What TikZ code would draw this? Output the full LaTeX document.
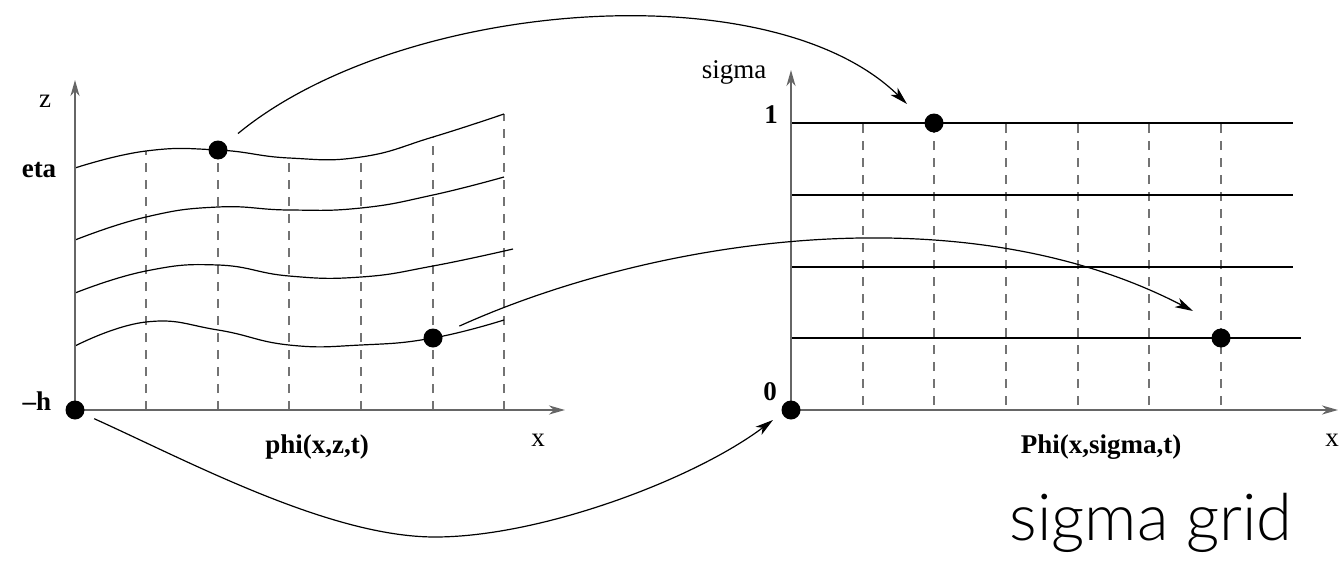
\documentclass[tikz,border=0pt]{standalone}
\usepackage{fontspec}
\setmainfont{Liberation Serif}
\newfontfamily\sgfont{Lato Light}
\usetikzlibrary{arrows.meta}
\tikzset{
 axisline/.style={draw=black!60, line width=1pt, -{Stealth[length=8pt,width=4.5pt,inset=2.5pt]}},
 gridline/.style={draw=black, line width=0.6pt},
 vdash/.style={draw=black!55, line width=0.7pt, dash pattern=on 4.5pt off 4pt},
 dot/.style={circle, fill=black, inner sep=0pt, minimum size=9.5pt},
 maparrow/.style={draw=black, line width=0.6pt, -{Stealth[length=9pt,width=5pt,inset=2.5pt]}},
 lab/.style={inner sep=0pt, anchor=base, font=\fontsize{13.5}{16}\selectfont},
 blab/.style={inner sep=0pt, anchor=base, font=\fontsize{13.5}{16}\selectfont\bfseries},
}
\begin{document}
\begin{tikzpicture}[x=0.5pt,y=-0.5pt]
\useasboundingbox (0,0) rectangle (1339,562);

% ---------- left panel ----------
\foreach \x/\y in {146/151,218/150,289/158,361/157,433/137,504/114}
  \draw[vdash] (\x,410) -- (\x,\y);
\draw[gridline] plot[smooth,tension=0.8] coordinates {(75,168) (146,151) (218,150) (289,158) (361,157) (433,137) (504,114)};
\draw[gridline] plot[smooth,tension=0.8] coordinates {(75,240) (146,217) (218,207) (289,210) (361,208) (433,195) (504,177)};
\draw[gridline] plot[smooth,tension=0.8] coordinates {(75,293) (146,271) (218,265) (289,276) (361,277) (433,266) (513,249)};
\draw[gridline] plot[smooth,tension=0.8] coordinates {(75,346) (146,322) (218,330) (289,345) (361,345) (433,338) (504,320)};

\coordinate (lo) at (75,410);
\coordinate (lz) at (75,80);
\coordinate (lx) at (565,410);
\draw[axisline] (lo) -- (lz);
\draw[axisline] (lo) -- (lx);

\node[lab] (zl) at (45,107) {z};
\node[lab] (xl) at (538,446) {x};
\node[blab] (etal) at (39,177) {eta};
\node[blab] (hl) at (37,410) {–h};
\node[blab] (phil) at (317,453) {phi(x,z,t)};

\node[dot] (dA) at (218,150) {};
\node[dot] (dB) at (433,338) {};
\node[dot] (dH) at (75,410) {};

% ---------- right panel ----------
\foreach \x in {863,934,1006,1078,1149,1221}
  \draw[vdash] (\x,405) -- (\x,123);
\draw[gridline] (791,123) -- (1293,123);
\draw[gridline] (791,195) -- (1293,195);
\draw[gridline] (791,267) -- (1293,267);
\draw[gridline] (791,338) -- (1301,338);

\coordinate (ro) at (791,410);
\coordinate (rs) at (791,70);
\coordinate (rx) at (1338,410);
\draw[axisline] (ro) -- (rs);
\draw[axisline] (ro) -- (rx);

\node[lab] (sigl) at (734,78) {sigma};
\node[lab] (xr) at (1332,446) {x};
\node[blab] (onel) at (771,123) {1};
\node[blab] (zerol) at (770,400) {0};
\node[blab] (Phil) at (1101,453) {Phi(x,sigma,t)};

\node[dot] (dS1) at (934,123) {};
\node[dot] (dS2) at (1221,338) {};
\node[dot] (dO) at (791,410) {};

% ---------- mapping arrows ----------
\coordinate (tS1) at (907,104);
\coordinate (tS2) at (1193,311);
\coordinate (tO) at (773,420);
\coordinate (bot) at (435,537);
\draw[maparrow, shorten <=8pt] (dA) .. controls (400,0) and (770,-30) .. (tS1);
\draw[maparrow, shorten <=9.5pt] (dB) .. controls (650,240) and (960,190) .. (tS2);
\draw[maparrow, shorten <=5.6pt] (dH) .. controls (190,462) and (330,537) .. (bot) .. controls (540,537) and (693,480) .. (tO);

\node[inner sep=0pt, anchor=base, font=\sgfont\fontsize{32.5}{36}\selectfont] (sg) at (1151,540) {sigma grid};
\end{tikzpicture}
\end{document}
